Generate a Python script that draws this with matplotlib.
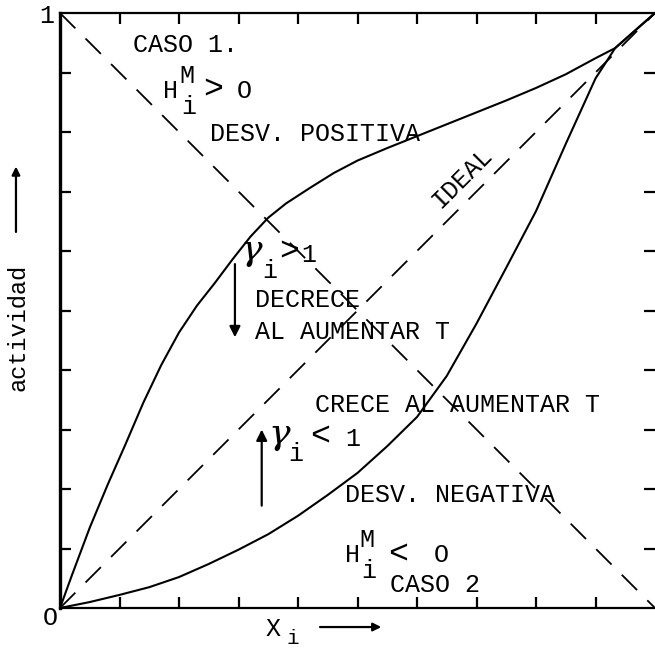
import matplotlib.pyplot as plt
import numpy as np

# curva con desviacion positiva (caso 1)
x_pos = [0, 0.02, 0.05, 0.08, 0.11, 0.14, 0.17, 0.20, 0.23, 0.26, 0.29, 0.32,
         0.35, 0.38, 0.42, 0.46, 0.50, 0.55, 0.60, 0.65, 0.70, 0.75, 0.80,
         0.85, 0.90, 0.933, 1.0]
y_pos = [0, 0.055, 0.135, 0.207, 0.275, 0.345, 0.408, 0.463, 0.508, 0.546,
         0.586, 0.624, 0.656, 0.680, 0.706, 0.731, 0.752, 0.773, 0.793, 0.813,
         0.833, 0.853, 0.874, 0.897, 0.924, 0.941, 1.0]

# curva con desviacion negativa (caso 2)
x_neg = [0, 0.05, 0.10, 0.15, 0.20, 0.25, 0.30, 0.35, 0.40, 0.45, 0.50, 0.55,
         0.60, 0.65, 0.70, 0.75, 0.80, 0.85, 0.90, 0.933, 1.0]
y_neg = [0, 0.010, 0.022, 0.035, 0.052, 0.074, 0.098, 0.124, 0.155, 0.190,
         0.227, 0.272, 0.321, 0.390, 0.478, 0.572, 0.667, 0.780, 0.890, 0.941,
         1.0]

# recta ideal y su cruce
x_ideal = [0, 1]
y_ideal = [0, 1]
x_cruz = [0, 1]
y_cruz = [1, 0]

ticks = np.arange(1, 10) / 10

mono = "Liberation Mono"
fs = 18

fig = plt.figure(figsize=(6.55, 6.49), dpi=100)
ax = fig.add_axes([60 / 655, 41 / 649, 595 / 655, 595 / 649])

ax.plot(x_pos, y_pos, color="black", lw=1.5)
ax.plot(x_neg, y_neg, color="black", lw=1.5)
ax.plot(x_ideal, y_ideal, color="black", lw=1.3, dashes=(12, 8))
ax.plot(x_cruz, y_cruz, color="black", lw=1.3, dashes=(12, 8))

ax.set_xlim(0, 1)
ax.set_ylim(0, 1)
ax.set_xticks(ticks)
ax.set_yticks(ticks)
ax.set_xticklabels([])
ax.set_yticklabels([])
ax.tick_params(direction="in", length=8, width=1.6, top=True, right=True,
               bottom=True, left=True)
ax.spines["right"].set_visible(False)
ax.spines["left"].set_linewidth(2.4)
ax.spines["top"].set_linewidth(1.6)
ax.spines["bottom"].set_linewidth(1.6)


def t(x, y, s, size=fs, ha="left", **kw):
    ax.text(x, y, s, fontsize=size, family=mono, ha=ha, va="center",
            clip_on=False, **kw)


# caso 1
t(0.123, 0.946, "CASO 1.")
t(0.173, 0.869, "H")
t(0.201, 0.894, "M")
t(0.204, 0.842, "i")
t(0.240, 0.871, ">", size=24)
t(0.297, 0.869, "O")
t(0.252, 0.797, "DESV. POSITIVA")
t(0.675, 0.724, "IDEAL", ha="center", rotation=45)

# gamma > 1
ax.text(0.322, 0.602, "γ", fontsize=26, family="DejaVu Serif", style="italic",
        ha="center", va="center")
t(0.340, 0.566, "i")
t(0.368, 0.598, ">", size=24)
t(0.405, 0.593, "1")
t(0.328, 0.518, "DECRECE")
t(0.328, 0.464, "AL AUMENTAR T")
ax.annotate("", xy=(0.294, 0.455), xytext=(0.294, 0.578),
            arrowprops=dict(arrowstyle="-|>", color="black", lw=1.6,
                            mutation_scale=16, shrinkA=0, shrinkB=0))

# gamma < 1
t(0.429, 0.341, "CRECE AL AUMENTAR T")
ax.text(0.369, 0.292, "γ", fontsize=26, family="DejaVu Serif", style="italic",
        ha="center", va="center")
t(0.384, 0.259, "i")
t(0.420, 0.287, "<", size=24)
t(0.480, 0.284, "1")
ax.annotate("", xy=(0.339, 0.300), xytext=(0.339, 0.172),
            arrowprops=dict(arrowstyle="-|>", color="black", lw=1.6,
                            mutation_scale=16, shrinkA=0, shrinkB=0))

# caso 2
t(0.479, 0.190, "DESV. NEGATIVA")
t(0.479, 0.089, "H")
t(0.503, 0.114, "M")
t(0.506, 0.063, "i")
t(0.552, 0.089, "<", size=24)
t(0.628, 0.089, "O")
t(0.555, 0.039, "CASO 2")

# etiquetas de ejes
t(-0.010, 0.995, "1", ha="right")
t(-0.004, -0.017, "O", ha="right")
t(0.346, -0.035, "X")
t(0.381, -0.052, "i", size=15)
ax.annotate("", xy=(0.540, -0.032), xytext=(0.437, -0.032),
            annotation_clip=False,
            arrowprops=dict(arrowstyle="-|>", color="black", lw=1.6,
                            mutation_scale=12, shrinkA=0, shrinkB=0))
ax.text(-0.070, 0.471, "actividad", fontsize=17, family=mono, rotation=90,
        ha="center", va="center", clip_on=False)
ax.annotate("", xy=(-0.074, 0.742), xytext=(-0.074, 0.632),
            annotation_clip=False,
            arrowprops=dict(arrowstyle="-|>", color="black", lw=1.6,
                            mutation_scale=12, shrinkA=0, shrinkB=0))

fig.savefig("out.png", dpi=100)
